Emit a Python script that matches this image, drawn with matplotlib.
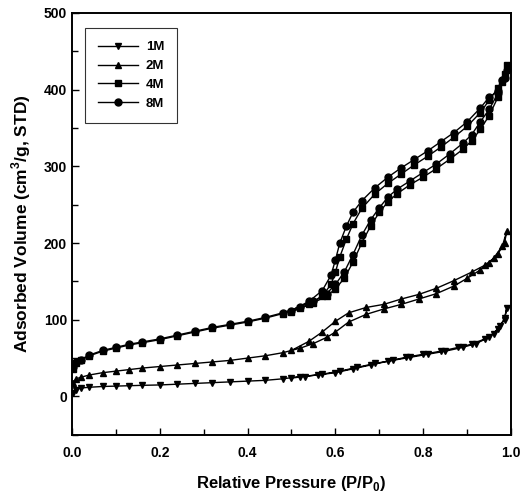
import numpy as np
import matplotlib
matplotlib.use("Agg")
import matplotlib.pyplot as plt
from matplotlib.ticker import MultipleLocator

plt.rcParams['font.family'] = ['Liberation Sans', 'DejaVu Sans']
plt.rcParams['mathtext.fontset'] = 'custom'
plt.rcParams['mathtext.rm'] = 'Liberation Sans'
plt.rcParams['mathtext.bf'] = 'Liberation Sans:bold'

# 1M : adsorption then desorption
p_1m = [0.002, 0.01, 0.02, 0.04, 0.07, 0.1, 0.13, 0.16, 0.2, 0.24, 0.28, 0.32, 0.36, 0.4, 0.44,
        0.48, 0.52, 0.56, 0.6, 0.64, 0.68, 0.72, 0.76, 0.8, 0.84, 0.88, 0.91, 0.94, 0.96, 0.975, 0.985, 0.99,
        0.985, 0.97, 0.95, 0.92, 0.89, 0.85, 0.81, 0.77, 0.73, 0.69, 0.65, 0.61, 0.57, 0.53, 0.5]
v_1m = [5, 9, 11, 12, 13, 13.5, 14, 14.5, 15, 16, 17, 18, 19, 20, 21,
        23, 26, 28, 31, 36, 41, 46, 51, 55, 59, 64, 68, 75, 82, 92, 102, 115,
        100, 88, 77, 69, 64, 59, 55, 51, 47, 43, 38, 33, 29, 26, 24]

# 2M
p_2m = [0.002, 0.01, 0.02, 0.04, 0.07, 0.1, 0.13, 0.16, 0.2, 0.24, 0.28, 0.32, 0.36, 0.4, 0.44,
        0.48, 0.52, 0.55, 0.58, 0.6, 0.63, 0.67, 0.71, 0.75, 0.79, 0.83, 0.87, 0.9, 0.93, 0.95, 0.97, 0.985, 0.99,
        0.98, 0.96, 0.94, 0.91, 0.87, 0.83, 0.79, 0.75, 0.71, 0.67, 0.63, 0.6, 0.57, 0.54, 0.5]
v_2m = [18, 23, 25, 28, 31, 33, 35, 37, 39, 41, 43, 45, 47, 50, 53,
        57, 63, 69, 77, 84, 97, 107, 114, 120, 127, 134, 144, 154, 165, 174, 186, 200, 215,
        196, 180, 171, 162, 151, 141, 133, 127, 120, 116, 109, 98, 84, 72, 60]

# 4M
p_4m = [0.002, 0.01, 0.02, 0.04, 0.07, 0.1, 0.13, 0.16, 0.2, 0.24, 0.28, 0.32, 0.36, 0.4, 0.44,
        0.48, 0.52, 0.55, 0.58, 0.6, 0.62, 0.64, 0.66, 0.68, 0.7, 0.72, 0.74, 0.77, 0.8, 0.83, 0.86,
        0.89, 0.91, 0.93, 0.95, 0.97, 0.98, 0.99,
        0.985, 0.97, 0.95, 0.93, 0.9, 0.87, 0.84, 0.81, 0.78, 0.75, 0.72, 0.69, 0.66, 0.64, 0.625,
        0.61, 0.6, 0.59, 0.57, 0.54, 0.5]
v_4m = [36, 43, 47, 53, 59, 63, 67, 70, 74, 79, 84, 89, 93, 97, 102,
        108, 115, 122, 131, 140, 154, 175, 200, 222, 240, 254, 264, 276, 286, 297, 309,
        322, 333, 348, 366, 390, 410, 432,
        420, 402, 386, 370, 352, 338, 325, 313, 302, 290, 278, 264, 245, 225, 205,
        182, 162, 146, 131, 120, 110]

# 8M
p_8m = [0.002, 0.01, 0.02, 0.04, 0.07, 0.1, 0.13, 0.16, 0.2, 0.24, 0.28, 0.32, 0.36, 0.4, 0.44,
        0.48, 0.52, 0.55, 0.58, 0.6, 0.62, 0.64, 0.66, 0.68, 0.7, 0.72, 0.74, 0.77, 0.8, 0.83, 0.86,
        0.89, 0.91, 0.93, 0.95, 0.97, 0.98, 0.99,
        0.985, 0.97, 0.95, 0.93, 0.9, 0.87, 0.84, 0.81, 0.78, 0.75, 0.72, 0.69, 0.66, 0.64, 0.625,
        0.61, 0.6, 0.59, 0.57, 0.54, 0.5]
v_8m = [38, 45, 48, 54, 60, 64, 68, 71, 75, 80, 85, 90, 94, 98, 103,
        109, 117, 124, 134, 146, 162, 185, 210, 230, 246, 260, 270, 281, 292, 303, 316,
        330, 341, 358, 374, 395, 412, 425,
        415, 398, 390, 376, 358, 344, 332, 320, 309, 298, 286, 272, 255, 240, 222,
        200, 178, 158, 138, 124, 112]

series = [
    ("1M", p_1m, v_1m, "v"),
    ("2M", p_2m, v_2m, "^"),
    ("4M", p_4m, v_4m, "s"),
    ("8M", p_8m, v_8m, "o"),
]

fig = plt.figure(figsize=(5.21, 4.93), dpi=100)
ax = fig.add_axes([0.138, 0.118, 0.843, 0.856])

for name, p, v, m in series:
    ax.plot(p, v, color="black", lw=1.0, marker=m, ms=5, mfc="black", mec="black", label=name)

ax.set_xlim(0, 1.0)
ax.set_ylim(-50, 500)
ax.xaxis.set_major_locator(MultipleLocator(0.2))
ax.xaxis.set_minor_locator(MultipleLocator(0.1))
ax.yaxis.set_major_locator(MultipleLocator(100))
ax.yaxis.set_minor_locator(MultipleLocator(50))
ax.tick_params(which="both", direction="in", top=False, right=False, labelsize=10)
ax.tick_params(which="major", length=5, width=1)
ax.tick_params(which="minor", length=4, width=1)
for lab in ax.get_xticklabels() + ax.get_yticklabels():
    lab.set_fontweight("bold")
ax.xaxis.set_tick_params(pad=8)
for s in ax.spines.values():
    s.set_linewidth(1.4)

ax.set_xlabel(r"Relative Pressure (P/P$_\mathbf{0}$)", fontsize=12, fontweight="bold", labelpad=10)
ax.set_ylabel(r"Adsorbed Volume (cm$^\mathbf{3}$/g, STD)", fontsize=12.5, fontweight="bold", labelpad=8)

leg = ax.legend(loc="upper left", bbox_to_anchor=(0.03, 0.964), borderaxespad=0, frameon=True, fancybox=False,
                edgecolor="black", handlelength=3.0, borderpad=1.0, labelspacing=0.5, handletextpad=0.6,
                prop={"weight": "bold", "size": 9.5})
leg.get_frame().set_linewidth(0.8)

fig.savefig("out.png", dpi=100)
